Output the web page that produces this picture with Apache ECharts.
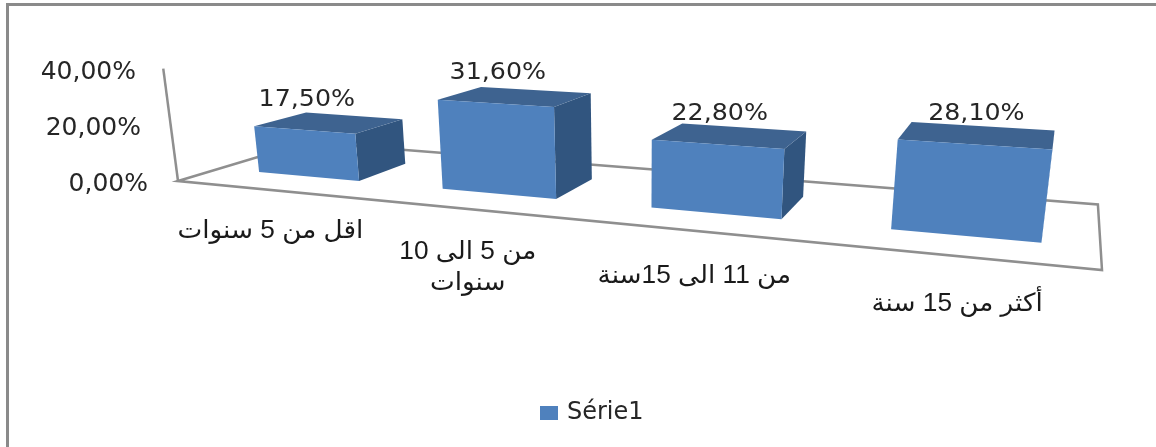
<!DOCTYPE html>
<html>
<head>
<meta charset="utf-8">
<style>
html,body{margin:0;padding:0;background:#fff;}
#main{width:1156px;height:447px;}
</style>
<script src="https://cdn.jsdelivr.net/npm/echarts@6/dist/echarts.min.js"></script>
</head>
<body>
<div id="main"></div>
<script>
var categories = ['اقل من 5 سنوات', 'من 5 الى 10\nسنوات', 'من 11 الى 15سنة', 'أكثر من 15 سنة'];
var values = [17.5, 31.6, 22.8, 28.1];
var yTicks = [0, 20, 40];
var seriesName = 'Série1';

var latinFont = '"DejaVu Sans"';
var arabicFont = '"Liberation Sans","DejaVu Sans"';

// perspective of the excel 3d box: s along categories, v up, w into the depth (all 0..1)
function project(s, v, w) {
    var k = -0.0305;
    var W = -0.25 * s + k * v + 0.16703 * w + 1;
    var X = 648.5 * s + k * 637 * v + 180.3 * w + 178;
    var Y = 21.5 * s + k * 3680 * v - 15 * w + 181;
    return [X / W, Y / W];
}

function fmt(v) {
    return v.toFixed(2).replace('.', ',') + '%';
}

function renderFloor(params, api) {
    var line = {stroke: '#8f8f8f', lineWidth: 2.5, fill: null};
    return {
        type: 'group',
        children: [{
            type: 'polygon',
            shape: {points: [project(0, 0, 0), project(0, 0, 1), project(1, 0, 1), project(1, 0, 0)]},
            style: line
        }, {
            type: 'polyline',
            shape: {points: [project(0, 1.02, 0), project(0, 0, 0)]},
            style: line
        }]
    };
}

function renderBar(params, api) {
    var cs = params.coordSys;
    var barW = 0.56;
    var w0 = 0.29, w1 = 0.70;
    var top = api.coord([api.value(0), api.value(1)]);
    var band = api.size([1, 0])[0];
    var sc = (top[0] - cs.x) / cs.width + 0.003;
    var half = barW * band / cs.width / 2;
    var s0 = sc - half, s1 = sc + half;
    var v = (cs.y + cs.height - top[1]) / cs.height;

    var frontTop = project(sc, v, w0);
    return {
        type: 'group',
        children: [{
            type: 'polygon',
            shape: {points: [project(s1, 0, w0), project(s1, 0, w1), project(s1, v, w1), project(s1, v, w0)]},
            style: {fill: '#31557f'}
        }, {
            type: 'polygon',
            shape: {points: [project(s0, v, w0), project(s0, v, w1), project(s1, v, w1), project(s1, v, w0)]},
            style: {fill: '#3e6390'}
        }, {
            type: 'polygon',
            shape: {points: [project(s0, 0, w0), project(s1, 0, w0), project(s1, v, w0), project(s0, v, w0)]},
            style: {fill: '#4f81bd'}
        }, {
            type: 'text',
            x: frontTop[0] + 3,
            y: frontTop[1] - 30,
            scaleX: 1.1,
            style: {
                text: fmt(api.value(1)),
                font: '23px ' + latinFont,
                fill: '#262626',
                align: 'center',
                verticalAlign: 'middle'
            }
        }]
    };
}

function renderCategory(params, api) {
    var cs = params.coordSys;
    var pt = api.coord([api.value(0), 0]);
    var s = (pt[0] - cs.x) / cs.width;
    var p = project(s, 0, 0);
    return {
        type: 'text',
        x: p[0] + 3,
        y: p[1] + 25 + 9 * s,
        scaleX: 1.05,
        style: {
            text: categories[api.value(0)],
            font: '25px ' + arabicFont,
            fill: '#1a1a1a',
            align: 'center',
            verticalAlign: 'top',
            lineHeight: 31
        }
    };
}

var chart = echarts.init(document.getElementById('main'));
var barData = [];
for (var i = 0; i < values.length; i++) {
    barData.push([i, values[i]]);
}

var option = {
    animation: false,
    backgroundColor: '#fff',
    graphic: [{
        type: 'polyline',
        shape: {points: [[7.5, 447], [7.5, 4.5], [1156, 4.5]]},
        style: {fill: 'none', stroke: '#8a8a8a', lineWidth: 3},
        silent: true
    }],
    grid: {left: 160, width: 900, top: 72, height: 112},
    legend: {
        data: [seriesName],
        left: 535,
        top: 396,
        itemWidth: 18,
        itemHeight: 14,
        icon: 'rect',
        textStyle: {fontFamily: 'DejaVu Sans', fontSize: 24, color: '#262626', padding: [0, 0, 0, 4]}
    },
    xAxis: {
        type: 'category',
        data: categories,
        show: false
    },
    yAxis: {
        type: 'value',
        min: yTicks[0],
        max: yTicks[yTicks.length - 1],
        interval: 20,
        axisLine: {show: false},
        axisTick: {show: false},
        splitLine: {show: false},
        axisLabel: {
            margin: 12,
            fontFamily: 'DejaVu Sans',
            fontSize: 25,
            color: '#262626',
            formatter: function (v) {
                return '{t' + v + '|' + fmt(v) + '}';
            },
            rich: {
                t0: {padding: [0, 0, 0, 0]},
                t20: {padding: [0, 7, 0, 0]},
                t40: {padding: [0, 12, 0, 0]}
            }
        }
    },
    series: [{
        type: 'custom',
        name: 'floor',
        silent: true,
        z: 1,
        renderItem: renderFloor,
        data: [[0, 0]]
    }, {
        type: 'custom',
        name: seriesName,
        z: 2,
        itemStyle: {color: '#4f81bd'},
        renderItem: renderBar,
        encode: {x: 0, y: 1},
        data: barData
    }, {
        type: 'custom',
        name: 'categories',
        silent: true,
        z: 3,
        renderItem: renderCategory,
        data: barData
    }]
};
chart.setOption(option);

setTimeout(function () {
    window.onresize = function () {
        chart.resize();
    };
}, 200);
</script>
</body>
</html>
